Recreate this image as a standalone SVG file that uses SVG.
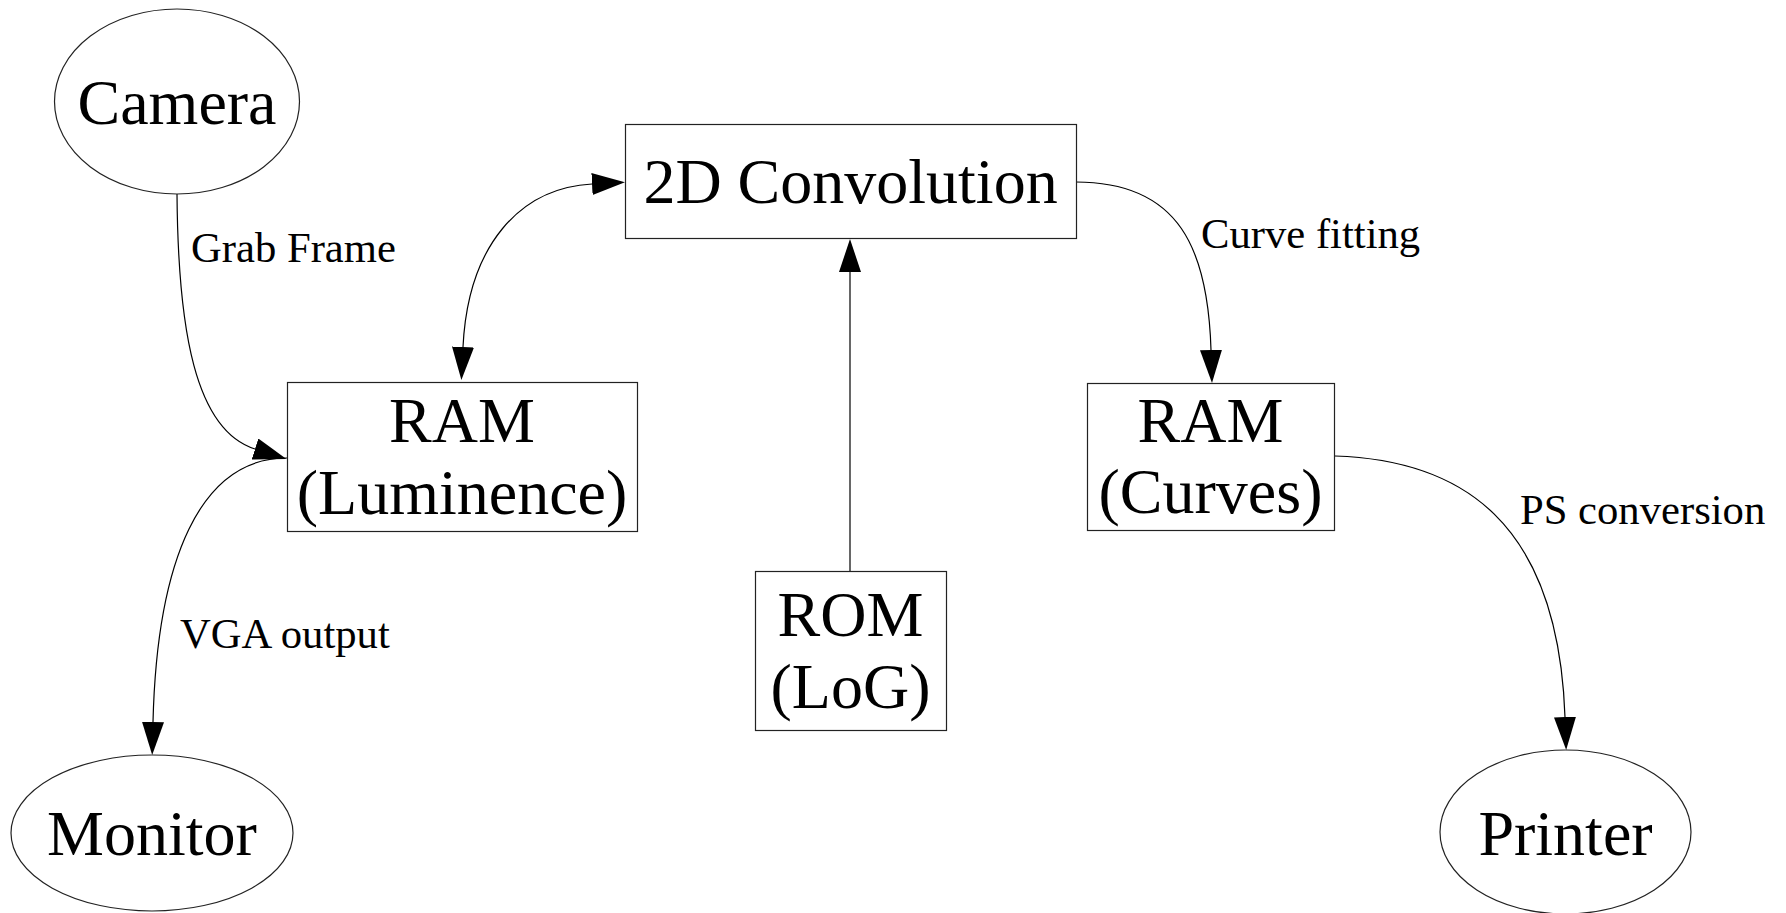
<svg xmlns="http://www.w3.org/2000/svg" width="1786" height="913" viewBox="0 0 1786 913">
<style>
  .node { fill: #fff; stroke: #222; stroke-width: 1.2; }
  .big { font-family: "Liberation Serif", "Times New Roman", serif; font-size: 64px; fill: #000; text-anchor: middle; }
  .lbl { font-family: "Liberation Serif", "Times New Roman", serif; font-size: 42.67px; fill: #000; }
  .edge { fill: none; stroke: #000; stroke-width: 1.2; }
</style>
<defs>
  <marker id="arr" viewBox="0 0 33 22" refX="0" refY="11" markerWidth="33" markerHeight="22" markerUnits="userSpaceOnUse" orient="auto-start-reverse">
    <path d="M0,0 L33,11 L0,22 Z" fill="#000"/>
  </marker>
</defs>
<rect width="1786" height="913" fill="#fff"/>
<g id="connectors">
  <path class="edge" d="M177,194 C178,330 195,430 255,449" marker-end="url(#arr)"/>
  <path class="edge" d="M287,458 C200,458 157,560 153,722" marker-end="url(#arr)"/>
  <path class="edge" d="M592,184 C520,188 468,245 463,347" marker-start="url(#arr)" marker-end="url(#arr)"/>
  <path class="edge" d="M850,571 L850,272" marker-end="url(#arr)"/>
  <path class="edge" d="M1076,182 C1180,182 1208,250 1211,350" marker-end="url(#arr)"/>
  <path class="edge" d="M1335,456 C1460,460 1558,520 1565,717" marker-end="url(#arr)"/>
  <text class="lbl" x="191" y="262">Grab Frame</text>
  <text class="lbl" x="180" y="648">VGA output</text>
  <text class="lbl" x="1201" y="248">Curve fitting</text>
  <text class="lbl" x="1520" y="524">PS conversion</text>
</g>
<g id="camera">
  <ellipse class="node" cx="177" cy="101.5" rx="122.5" ry="92.5"/>
  <text class="big" x="177" y="124">Camera</text>
</g>
<g id="conv2d">
  <rect class="node" x="625.5" y="124.5" width="451" height="114"/>
  <text class="big" x="850.5" y="203">2D Convolution</text>
</g>
<g id="ram_luminence">
  <rect class="node" x="287.5" y="382.5" width="350" height="149"/>
  <text class="big" x="462" y="442">RAM</text>
  <text class="big" x="462" y="514">(Luminence)</text>
</g>
<g id="ram_curves">
  <rect class="node" x="1087.5" y="383.5" width="247" height="147"/>
  <text class="big" x="1210.5" y="442">RAM</text>
  <text class="big" x="1210.5" y="513">(Curves)</text>
</g>
<g id="rom_log">
  <rect class="node" x="755.5" y="571.5" width="191" height="159"/>
  <text class="big" x="850.5" y="636">ROM</text>
  <text class="big" x="850.5" y="708">(LoG)</text>
</g>
<g id="monitor">
  <ellipse class="node" cx="152" cy="833" rx="141" ry="78"/>
  <text class="big" x="152" y="855">Monitor</text>
</g>
<g id="printer">
  <ellipse class="node" cx="1565.5" cy="832" rx="125.5" ry="82"/>
  <text class="big" x="1565.5" y="855">Printer</text>
</g>
</svg>
